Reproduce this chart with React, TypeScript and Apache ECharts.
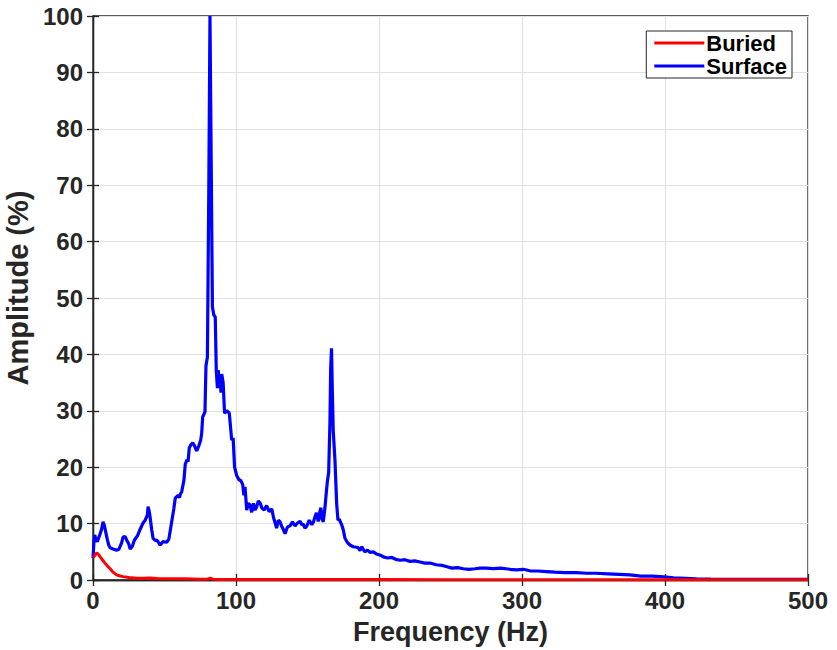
import React, { useEffect, useRef } from "react";
import * as echarts from "echarts";

const xTicks = [0, 100, 200, 300, 400, 500];
const yTicks = [0, 10, 20, 30, 40, 50, 60, 70, 80, 90, 100];

const surfaceFreq = [
  0, 0.6, 1.2, 2, 3, 4, 5, 6, 7, 8, 9, 10, 11, 12, 14, 16.5, 18, 20, 21, 22.5, 23.5, 25, 26, 27.5, 29, 31, 33, 35, 36.5, 38, 38.5, 39.3, 40, 41, 42, 43.5, 44.5, 46, 47, 49, 51.5, 53, 55, 56.5, 57.5, 59.5, 60.5, 61, 62, 63.6, 64.5, 65.7, 66.5, 67.3, 68.5, 69.7, 71, 72.5, 74, 75.3, 76, 76.7, 78.3, 79, 80, 81, 81.8, 82.6, 83.5, 84.5, 85.5, 86.2, 87, 87.6, 88.3, 88.8, 89.5, 90, 91, 92, 93.5, 95.3, 97, 98, 99, 100.5, 102.3, 103.2, 104.7, 105.5, 106.3, 107.5, 108.6, 109.8, 111, 112.2, 113.3, 114.5, 115.6, 117, 118, 119.7, 121.4, 123.2, 125, 126.3, 127.3, 128.4, 129.6, 130.8, 132, 133.2, 134.3, 136, 137.8, 139.5, 141.3, 143, 144.8, 146, 147, 148.2, 149.4, 151.2, 153, 154.2, 155.2, 156.3, 157.5, 158.2, 158.7, 159.4, 160, 161, 162.2, 163.1, 163.9, 164.8, 165.7, 166.2, 166.8, 167.4, 168, 169.2, 170.4, 171.3, 172.2, 173, 173.9, 175, 176.2, 178, 179.7, 182, 184.4, 185.5, 186.7, 188, 190, 192, 193.7, 196, 198.4, 201, 203, 206, 209, 212.4, 215, 218, 221.7, 225, 228.7, 232, 235.7, 240, 244, 247, 251, 255, 259, 263, 267, 270.6, 275, 280, 285, 291.6, 296, 301, 306, 311, 317, 323, 330, 338, 345, 352, 360, 368, 375.5, 383, 391, 399, 406, 414, 422, 432, 445, 460, 475, 490, 500
];
const surfaceAmp = [
  3.9, 6.5, 8.0, 7.2, 6.8, 7.5, 8.2, 9.0, 10.3, 9.6, 8.4, 7.2, 6.2, 5.7, 5.5, 5.3, 5.4, 6.6, 7.6, 7.7, 7.1, 6.4, 5.5, 6.0, 7.1, 7.8, 9.0, 10.1, 10.6, 11.5, 13.0, 12.2, 11.0, 9.0, 7.4, 7.0, 7.1, 6.6, 6.2, 6.8, 6.7, 7.2, 10.3, 12.6, 14.5, 15.0, 14.6, 15.2, 15.6, 17.7, 20.5, 21.3, 21.0, 23.4, 24.0, 24.3, 23.8, 22.9, 23.8, 24.8, 26.0, 28.9, 29.8, 38.0, 39.5, 70.0, 100.0, 76.0, 48.4, 47.0, 46.6, 37.2, 34.0, 37.2, 34.5, 36.0, 33.2, 36.5, 35.0, 29.6, 30.0, 29.6, 24.8, 25.2, 20.0, 18.5, 17.7, 17.7, 16.9, 15.0, 16.5, 12.4, 13.6, 13.3, 12.0, 13.6, 12.4, 13.0, 14.0, 13.6, 12.8, 12.4, 13.2, 12.1, 12.6, 11.0, 10.2, 9.2, 10.6, 10.3, 9.5, 8.9, 8.2, 9.4, 9.6, 10.3, 9.6, 10.1, 10.4, 9.8, 9.9, 9.2, 9.5, 10.6, 9.8, 10.3, 11.2, 11.9, 10.4, 11.0, 12.2, 12.8, 11.0, 10.3, 12.8, 15.4, 17.5, 19.0, 28.0, 37.5, 41.1, 33.0, 26.5, 21.3, 13.5, 10.6, 10.8, 10.3, 9.8, 8.9, 7.4, 6.6, 6.2, 5.9, 5.8, 5.7, 5.2, 5.9, 5.0, 5.3, 4.9, 5.0, 4.6, 4.4, 4.1, 3.9, 4.0, 3.6, 3.5, 3.6, 3.3, 3.4, 3.2, 3.0, 3.0, 2.7, 2.6, 2.4, 2.1, 2.2, 2.0, 1.9, 2.0, 2.1, 2.1, 2.0, 2.1, 1.9, 1.8, 1.9, 1.6, 1.6, 1.5, 1.4, 1.3, 1.3, 1.2, 1.2, 1.1, 1.0, 0.9, 0.7, 0.7, 0.55, 0.4, 0.3, 0.2, 0.15, 0.12, 0.1, 0.1, 0.1, 0.1, 0.1
];

const buriedFreq = [0, 1.2, 2.6, 4, 5, 6.5, 8.4, 10, 12, 14, 16.5, 19, 21, 25, 30.5, 35, 40, 45, 55, 65, 75, 80, 82, 84, 90, 110, 140, 170, 200, 250, 300, 350, 400, 450, 500];
const buriedAmp = [4.0, 4.3, 4.8, 4.5, 4.1, 3.6, 3.0, 2.5, 2.0, 1.4, 0.9, 0.7, 0.6, 0.45, 0.3, 0.3, 0.35, 0.25, 0.2, 0.2, 0.15, 0.15, 0.3, 0.15, 0.1, 0.1, 0.08, 0.08, 0.07, 0.06, 0.05, 0.05, 0.05, 0.05, 0.05];

const seriesNames = ["Buried", "Surface"];

const FONT = "'Liberation Sans', Arial, Helvetica, sans-serif";
const AXIS_COLOR = "#262626";

export default function App() {
  const ref = useRef<HTMLDivElement>(null);
  useEffect(() => {
    if (!ref.current) return;
    const chart = echarts.init(ref.current, undefined, { renderer: "svg" });
    const surfaceData = surfaceFreq.map((f, i) => [f, surfaceAmp[i]]);
    const buriedData = buriedFreq.map((f, i) => [f, buriedAmp[i]]);
    const grid = { left: 93, right: 29, top: 16, bottom: 70 };
    chart.setOption({
      animation: false,
      backgroundColor: "#ffffff",
      grid: { ...grid, containLabel: false, outerBoundsMode: "none", show: true, borderColor: AXIS_COLOR, borderWidth: 1.3, backgroundColor: "transparent" },
      legend: {
        orient: "vertical",
        right: 45,
        top: 31,
        data: seriesNames,
        itemWidth: 50,
        itemHeight: 3,
        itemGap: 1,
        padding: [1, 5, 1, 8],
        backgroundColor: "#ffffff",
        borderColor: AXIS_COLOR,
        borderWidth: 1,
        borderRadius: 0,
        icon: "rect",
        textStyle: { fontFamily: FONT, fontWeight: "bold", fontSize: 22, lineHeight: 22, color: "#000", padding: [0, 0, 0, -3] },
      },
      xAxis: [
        {
          type: "value",
          min: 0,
          max: 500,
          interval: 100,
          name: "Frequency (Hz)",
          nameLocation: "middle",
          nameGap: 38,
          nameTextStyle: { fontFamily: FONT, fontWeight: "bold", fontSize: 27, color: "#262626" },
          axisLine: { show: true, lineStyle: { color: AXIS_COLOR, width: 1.3 } },
          axisTick: { show: true, inside: true, length: 6, lineStyle: { color: AXIS_COLOR, width: 1.3 } },
          axisLabel: { fontFamily: FONT, fontWeight: "bold", fontSize: 24, color: "#262626", margin: 8, formatter: (v: number) => (xTicks.includes(v) ? String(v) : "") },
          splitLine: { show: true, lineStyle: { color: "#e0e0e0", width: 1 } },
        },
        {
          type: "value",
          position: "top",
          min: 0,
          max: 500,
          interval: 100,
          axisLine: { show: true, lineStyle: { color: AXIS_COLOR, width: 1.3 } },
          axisTick: { show: true, inside: true, length: 6, lineStyle: { color: AXIS_COLOR, width: 1.3 } },
          axisLabel: { show: false },
          splitLine: { show: false },
        },
      ],
      yAxis: [
        {
          type: "value",
          min: 0,
          max: 100,
          interval: 10,
          name: "Amplitude (%)",
          nameLocation: "middle",
          nameGap: 60,
          nameTextStyle: { fontFamily: FONT, fontWeight: "bold", fontSize: 29, color: "#262626", padding: [0, 0, 0, 20] },
          axisLine: { show: true, lineStyle: { color: AXIS_COLOR, width: 1.3 } },
          axisTick: { show: true, inside: true, length: 6, lineStyle: { color: AXIS_COLOR, width: 1.3 } },
          axisLabel: { fontFamily: FONT, fontWeight: "bold", fontSize: 24, color: "#262626", margin: 10, formatter: (v: number) => (yTicks.includes(v) ? String(v) : "") },
          splitLine: { show: true, lineStyle: { color: "#e0e0e0", width: 1 } },
        },
        {
          type: "value",
          position: "right",
          min: 0,
          max: 100,
          interval: 10,
          axisLine: { show: true, lineStyle: { color: AXIS_COLOR, width: 1.3 } },
          axisTick: { show: true, inside: true, length: 6, lineStyle: { color: AXIS_COLOR, width: 1.3 } },
          axisLabel: { show: false },
          splitLine: { show: false },
        },
      ],
      series: [
        {
          name: seriesNames[0],
          type: "line",
          xAxisIndex: 0,
          yAxisIndex: 0,
          data: buriedData,
          showSymbol: false,
          symbol: "none",
          color: "#ff0000",
          lineStyle: { color: "#ff0000", width: 3 },
          z: 3,
        },
        {
          name: seriesNames[1],
          type: "line",
          xAxisIndex: 0,
          yAxisIndex: 0,
          data: surfaceData,
          showSymbol: false,
          symbol: "none",
          color: "#0000ff",
          lineStyle: { color: "#0000ff", width: 3.2 },
          z: 2,
        },
      ],
    });
    return () => chart.dispose();
  }, []);
  return <div ref={ref} style={{ width: 837, height: 650, position: "absolute", left: 0, top: 0 }} />;
}
